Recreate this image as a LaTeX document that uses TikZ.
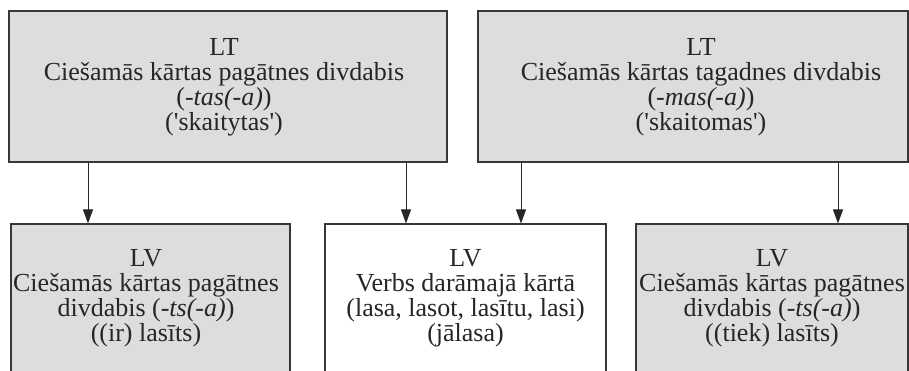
\documentclass[tikz,border=0pt]{standalone}
\usepackage{fontspec}
\setmainfont{Liberation Serif}
\usetikzlibrary{arrows.meta,calc}
\definecolor{boxgray}{RGB}{220,221,223}
\definecolor{edgegray}{RGB}{55,55,55}
\tikzset{
  grbox/.style={draw=edgegray, line width=1.1pt, fill=boxgray, inner sep=0pt},
  whbox/.style={draw=edgegray, line width=1.1pt, fill=white, inner sep=0pt},
  txt/.style={align=center, inner sep=0pt, font=\fontsize{26}{25}\selectfont, text=black!85},
  arr/.style={draw=black!85, line width=0.9pt, -{Triangle[width=10pt,length=14pt]}}
}
\begin{document}
\begin{tikzpicture}[x=1pt,y=-1pt]
\useasboundingbox (0,0) rectangle (909,371);
\clip (0,0) rectangle (909,371);
\fill[white] (0,0) rectangle (909,371);
% top boxes
\node[grbox, minimum width=438pt, minimum height=151pt] (lt1) at (228,86.5) {};
\node[grbox, minimum width=430pt, minimum height=151pt] (lt2) at (693,86.5) {};
% bottom boxes
\node[grbox, minimum width=279pt, minimum height=170pt] (lv1) at (150.5,309) {};
\node[whbox, minimum width=281pt, minimum height=170pt] (lv2) at (465.5,309) {};
\node[grbox, minimum width=272pt, minimum height=170pt] (lv3) at (772,309) {};
% texts
\node[txt] (t1) at (224,87) {LT\\Ciešamās kārtas pagātnes divdabis\\(-\textit{tas(-a)})\\(\textquotesingle skaitytas\textquotesingle)};
\node[txt] (t2) at (701,87) {LT\\Ciešamās kārtas tagadnes divdabis\\(-\textit{mas(-a)})\\(\textquotesingle skaitomas\textquotesingle)};
\node[txt] (t3) at (146,298) {LV\\Ciešamās kārtas pagātnes\\divdabis (-\textit{ts(-a)})\\((ir) lasīts)};
\node[txt] (t4) at (465.5,298) {LV\\Verbs darāmajā kārtā\\(lasa, lasot, lasītu, lasi)\\(jālasa)};
\node[txt] (t5) at (772,298) {LV\\Ciešamās kārtas pagātnes\\divdabis (-\textit{ts(-a)})\\((tiek) lasīts)};
% arrows
\coordinate (c1) at (88,0);
\coordinate (c2) at (406,0);
\coordinate (c3) at (521,0);
\coordinate (c4) at (838,0);
\draw[arr] (lt1.south -| c1) -- (lv1.north -| c1);
\draw[arr] (lt1.south -| c2) -- (lv2.north -| c2);
\draw[arr] (lt2.south -| c3) -- (lv2.north -| c3);
\draw[arr] (lt2.south -| c4) -- (lv3.north -| c4);
\end{tikzpicture}
\end{document}
